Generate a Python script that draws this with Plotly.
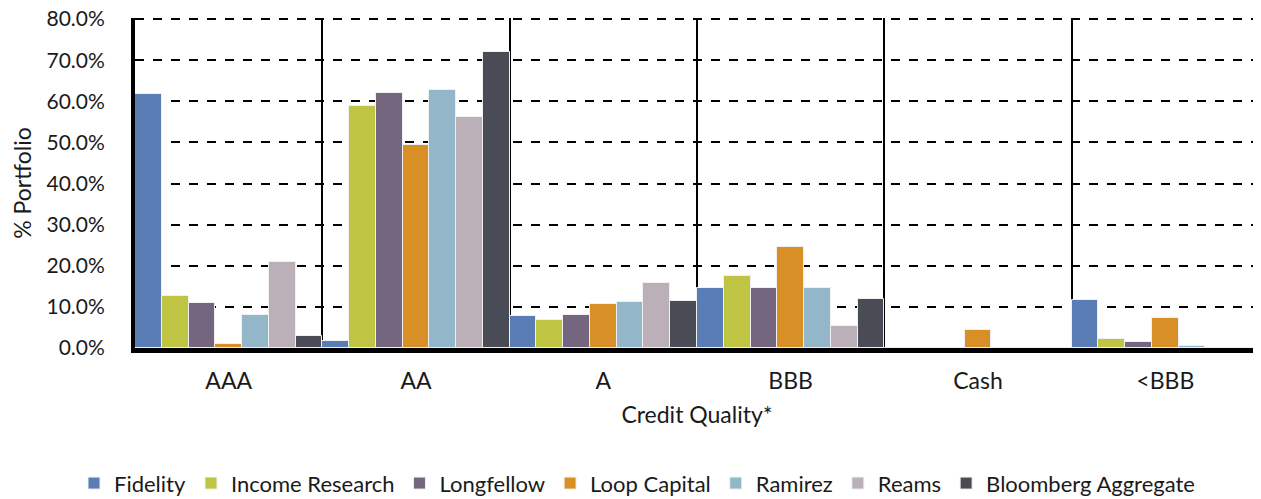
import plotly.graph_objects as go

categories = ["AAA", "AA", "A", "BBB", "Cash", "<BBB"]
fidelity = [61.8, 1.7, 7.7, 14.7, 0.0, 11.7]
income_research = [12.7, 58.9, 6.7, 17.4, 0.0, 2.2]
longfellow = [10.9, 62.1, 8.1, 14.6, 0.0, 1.5]
loop_capital = [1.0, 49.3, 10.6, 24.6, 4.4, 7.4]
ramirez = [8.1, 62.7, 11.2, 14.5, 0.0, 0.5]
reams = [20.8, 56.1, 15.9, 5.4, 0.0, 0.0]
bloomberg = [3.0, 72.0, 11.5, 12.0, 0.0, 0.0]

series = [
    ("Fidelity", fidelity, "#5B7DB5"),
    ("Income Research", income_research, "#BFC443"),
    ("Longfellow", longfellow, "#74667F"),
    ("Loop Capital", loop_capital, "#D89026"),
    ("Ramirez", ramirez, "#94B6C9"),
    ("Reams", reams, "#BBAFB8"),
    ("Bloomberg Aggregate", bloomberg, "#494C55"),
]

FONT = "Lato"
fig = go.Figure()
for name, vals, color in series:
    fig.add_trace(go.Bar(
        x=categories, y=vals, name=name,
        marker=dict(color=color, line=dict(color="#f0f0f0", width=1)),
    ))

# page body has an 8px default margin; figure sized to fill the rest
fig.update_layout(
    width=1253, height=491,
    margin=dict(l=127, r=2, t=10, b=151, autoexpand=False),
    paper_bgcolor="white", plot_bgcolor="white",
    barmode="group", bargap=0, bargroupgap=0,
    font=dict(family=FONT, size=23, color="#1a1a1a"),
    showlegend=True,
    legend=dict(
        orientation="h", xref="container", yref="container",
        x=0.502, xanchor="center", y=0.032, yanchor="middle",
        font=dict(family=FONT, size=22, color="#1a1a1a"),
        itemwidth=30, tracegroupgap=0,
    ),
)
fig.update_xaxes(
    type="category", tickson="boundaries", automargin=False,
    showgrid=True, gridcolor="black", gridwidth=2,
    showline=True, linecolor="black", linewidth=5,
    ticks="", tickfont=dict(size=23), ticklabelstandoff=8,
    title=dict(text="Credit Quality*", font=dict(size=23), standoff=16),
)
fig.update_yaxes(
    range=[0, 80.25], dtick=10, automargin=False,
    tickformat=".1f", ticksuffix="%", ticklabeloverflow="allow",
    showgrid=True, gridcolor="black", gridwidth=2, griddash="dash",
    showline=True, linecolor="black", linewidth=4,
    zeroline=False, ticks="", ticklabelstandoff=22,
    tickfont=dict(size=21),
    title=dict(text="% Portfolio", font=dict(size=23), standoff=12),
)

fig.write_html("out.html")
